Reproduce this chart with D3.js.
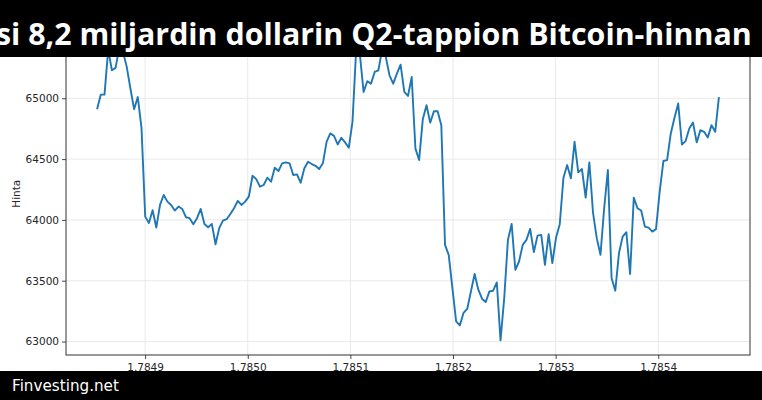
<!DOCTYPE html>
<html>
<head>
<meta charset="utf-8">
<script src="https://cdn.jsdelivr.net/npm/d3@7"></script>
<style>
  html, body { margin: 0; padding: 0; background: #ffffff; }
  svg { display: block; }
</style>
</head>
<body>
<svg id="chart" width="762" height="400"></svg>
<script>
// ---- data ----
const titleText = "si 8,2 miljardin dollarin Q2-tappion Bitcoin-hinnan";
const footerText = "Finvesting.net";
const yLabel = "Hinta";
const xStart = 1.7848532;
const xStep = 0.0000036066;
const prices = [
  64910, 65030, 65030, 65400, 65230, 65250, 65420, 65380, 65260, 65080,
  64910, 65010, 64755, 64027, 63975, 64080, 63937, 64123, 64205, 64150,
  64123, 64077, 64110, 64090, 64022, 64014, 63965, 64014, 64090, 63967,
  63940, 63967, 63800, 63932, 63994, 64006, 64049, 64096, 64156, 64123,
  64150, 64191, 64363, 64335, 64273, 64287, 64347, 64314, 64429, 64402,
  64465, 64473, 64465, 64369, 64374, 64306, 64424, 64478, 64459, 64445,
  64418, 64465, 64642, 64711, 64691, 64620, 64675, 64637, 64593, 64806,
  65400, 65360, 65052, 65140, 65120, 65216, 65230, 65400, 65340, 65189,
  65120, 65202, 65276, 65052, 65019, 65175, 64588, 64492, 64828, 64943,
  64800, 64893, 64893, 64779, 63795, 63713, 63440, 63166, 63133, 63235,
  63268, 63412, 63555, 63426, 63352, 63325, 63412, 63418, 63486, 63010,
  63358, 63836, 63967, 63590, 63658, 63795, 63836, 63926, 63735, 63871,
  63877, 63631, 63883, 63645, 63855, 63965, 64347, 64451, 64342, 64642,
  64391, 64418, 64183, 64473, 64055, 63850, 63713, 64096, 64410, 63522,
  63418, 63727, 63863, 63899, 63555, 64183, 64096, 64077, 63945, 63937,
  63904, 63924, 64232, 64484, 64492, 64711, 64839, 64957, 64620, 64648,
  64752, 64800, 64637, 64738, 64724, 64678, 64779, 64724, 65010
];
const yTicks = [63000, 63500, 64000, 64500, 65000];
const xTicks = [1.7849, 1.7850, 1.7851, 1.7852, 1.7853, 1.7854];

// ---- layout ----
const W = 762, H = 400;
const plot = { left: 66, right: 750, top: 32.5, bottom: 355 };

const svg = d3.select("#chart");
svg.append("rect").attr("width", W).attr("height", H).attr("fill", "#ffffff");

const series = prices.map((v, i) => ({ x: xStart + i * xStep, y: v }));

const xMin = d3.min(series, d => d.x), xMax = d3.max(series, d => d.x);
const yMin = d3.min(series, d => d.y), yMax = d3.max(series, d => d.y);
const xPad = (xMax - xMin) * 0.05, yPad = (yMax - yMin) * 0.05;

const x = d3.scaleLinear().domain([xMin - xPad, xMax + xPad]).range([plot.left, plot.right]);
const y = d3.scaleLinear().domain([yMin - yPad, yMax + yPad]).range([plot.bottom, plot.top]);

const g = svg.append("g");

// grid
g.append("g").selectAll("line").data(yTicks).join("line")
  .attr("x1", plot.left).attr("x2", plot.right)
  .attr("y1", d => y(d)).attr("y2", d => y(d))
  .attr("stroke", "#e9e9e9").attr("stroke-width", 1);
g.append("g").selectAll("line").data(xTicks).join("line")
  .attr("y1", plot.top).attr("y2", plot.bottom)
  .attr("x1", d => x(d)).attr("x2", d => x(d))
  .attr("stroke", "#e9e9e9").attr("stroke-width", 1);

// line
g.append("path").datum(series)
  .attr("fill", "none")
  .attr("stroke", "#1f77b4")
  .attr("stroke-width", 1.9)
  .attr("stroke-linejoin", "round")
  .attr("d", d3.line().x(d => x(d.x)).y(d => y(d.y)));

// axes
const yAxis = d3.axisLeft(y).tickValues(yTicks).tickFormat(d3.format("d")).tickSize(4).tickPadding(3);
const xAxis = d3.axisBottom(x).tickValues(xTicks).tickFormat(d3.format(".4f")).tickSize(4).tickPadding(4.5);

const ya = svg.append("g").attr("transform", `translate(${plot.left},0)`).call(yAxis);
const xa = svg.append("g").attr("transform", `translate(0,${plot.bottom})`).call(xAxis);
[ya, xa].forEach(a => {
  a.select(".domain").remove();
  a.selectAll(".tick line").attr("stroke", "#333").attr("stroke-width", 0.9);
  a.selectAll(".tick text").attr("fill", "#262626")
    .style("font-family", "DejaVu Sans").style("font-size", "10.5px");
});

// spines
svg.append("rect")
  .attr("x", plot.left).attr("y", plot.top)
  .attr("width", plot.right - plot.left).attr("height", plot.bottom - plot.top)
  .attr("fill", "none").attr("stroke", "#333").attr("stroke-width", 1);

// y label
svg.append("text")
  .attr("transform", `translate(20,${(plot.top + plot.bottom) / 2}) rotate(-90)`)
  .attr("text-anchor", "middle")
  .attr("fill", "#262626")
  .style("font-family", "DejaVu Sans").style("font-size", "10.5px")
  .text(yLabel);

// title band
svg.append("rect").attr("x", 0).attr("y", 0).attr("width", W).attr("height", 57).attr("fill", "#000");
const t = svg.append("text")
  .attr("x", -4).attr("y", 45)
  .attr("fill", "#ffffff")
  .style("font-family", "'Open Sans'").style("font-weight", "700").style("font-size", "28px")
  .text(titleText);
const len = t.node().getComputedTextLength();
t.style("font-size", (28 * 756 / len) + "px");

// footer band
svg.append("rect").attr("x", 0).attr("y", 371).attr("width", W).attr("height", H - 371).attr("fill", "#000");
svg.append("text")
  .attr("x", 12).attr("y", 391)
  .attr("fill", "#ffffff")
  .style("font-family", "DejaVu Sans").style("font-size", "15.2px")
  .text(footerText);
</script>
</body>
</html>
